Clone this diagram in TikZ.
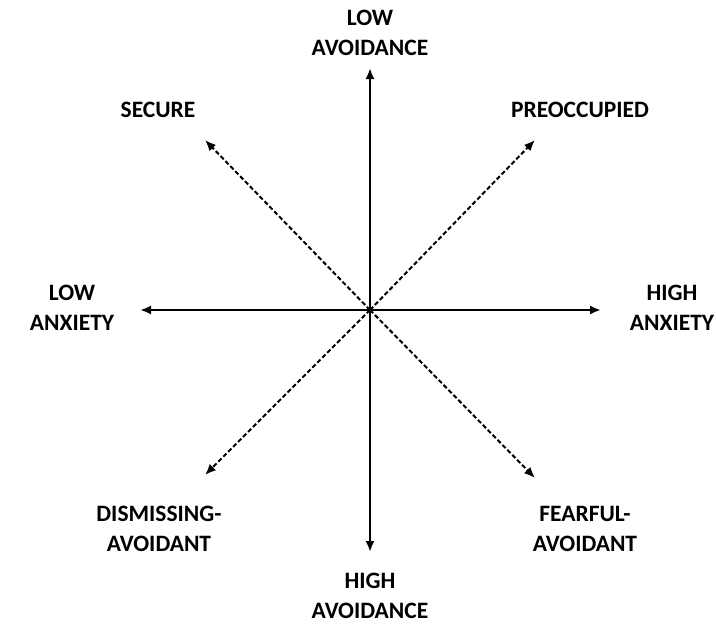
\documentclass[tikz,border=0pt]{standalone}
\usepackage{fontspec}
\setmainfont{Carlito}
\usetikzlibrary{arrows.meta}
\begin{document}
\begin{tikzpicture}[x=1pt,y=-1pt,
  lbl/.style={font=\bfseries\fontsize{23.5}{30}\selectfont, align=center, inner sep=0pt},
  axis/.style={line width=2.8pt, -{Latex[length=11pt,width=9pt]}},
  diag/.style={line width=2pt, dash pattern=on 4.5pt off 2.5pt, -{Latex[length=11pt,width=9pt]}}]
\useasboundingbox (0,0) rectangle (716,625);
\coordinate (o) at (370,310);
\coordinate (n) at (370,68);
\coordinate (s) at (370,552);
\coordinate (w) at (140,310);
\coordinate (e) at (601,310);
\coordinate (nw) at (205,140);
\coordinate (ne) at (535,140);
\coordinate (sw) at (205,475);
\coordinate (se) at (535,478);
\draw[axis] (o) -- (n);
\draw[axis] (o) -- (s);
\draw[axis] (o) -- (w);
\draw[axis] (o) -- (e);
\draw[diag] (o) -- (nw);
\draw[diag] (o) -- (ne);
\draw[diag] (o) -- (sw);
\draw[diag] (o) -- (se);
\node[lbl] (lav) at (370,33) {LOW\\AVOIDANCE};
\node[lbl] (hav) at (370,596) {HIGH\\AVOIDANCE};
\node[lbl] (lan) at (72,308) {LOW\\ANXIETY};
\node[lbl] (han) at (672,308) {HIGH\\ANXIETY};
\node[lbl] (sec) at (158,110) {SECURE};
\node[lbl] (pre) at (580,110) {PREOCCUPIED};
\node[lbl] (dis) at (159,529) {DISMISSING-\\AVOIDANT};
\node[lbl] (fea) at (585,529) {FEARFUL-\\AVOIDANT};
\end{tikzpicture}
\end{document}
